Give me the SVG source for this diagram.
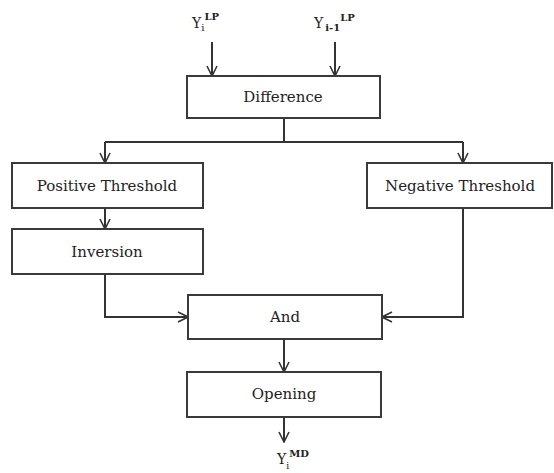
<svg xmlns="http://www.w3.org/2000/svg" width="554" height="473" viewBox="0 0 554 473">
<style>
.box{fill:#fff;stroke:#3a3a3a;stroke-width:2}
.lbl{font-family:"DejaVu Serif","Liberation Serif",serif;font-size:15px;fill:#222;text-anchor:middle}
.var{font-family:"DejaVu Serif","Liberation Serif",serif;fill:#222}
.ln{fill:none;stroke:#333;stroke-width:2}
</style>
<defs>
<marker id="ah" viewBox="0 0 12 12" refX="11" refY="6" markerWidth="12" markerHeight="12" markerUnits="userSpaceOnUse" orient="auto">
<path d="M1,1 L11,6 L1,11" fill="none" stroke="#333" stroke-width="1.6"/>
</marker>
</defs>
<g id="connectors">
<line class="ln" x1="212" y1="42" x2="212" y2="76" marker-end="url(#ah)"/>
<line class="ln" x1="335" y1="42" x2="335" y2="76" marker-end="url(#ah)"/>
<polyline class="ln" points="284,118 284,142"/>
<polyline class="ln" points="105,142 463,142"/>
<polyline class="ln" points="105,142 105,163" marker-end="url(#ah)"/>
<polyline class="ln" points="463,142 463,163" marker-end="url(#ah)"/>
<line class="ln" x1="105" y1="208" x2="105" y2="229" marker-end="url(#ah)"/>
<polyline class="ln" points="105,274 105,317 188,317" marker-end="url(#ah)"/>
<polyline class="ln" points="463,208 463,317 382,317" marker-end="url(#ah)"/>
<line class="ln" x1="284" y1="339" x2="284" y2="372" marker-end="url(#ah)"/>
<line class="ln" x1="284" y1="417" x2="284" y2="442" marker-end="url(#ah)"/>
</g>
<g id="in1">
<text class="var" x="192" y="28" font-size="14">Y<tspan font-size="10" dy="3">i</tspan><tspan font-size="10" font-weight="bold" dy="-11">LP</tspan></text>
</g>
<g id="in2">
<text class="var" x="314" y="28" font-size="14">Y<tspan font-size="10" font-weight="bold" dy="3" dx="2">i-1</tspan><tspan font-size="10" font-weight="bold" dy="-10">LP</tspan></text>
</g>
<g id="difference">
<rect class="box" x="187" y="76" width="193" height="42"/>
<text class="lbl" x="283" y="102">Difference</text>
</g>
<g id="positive">
<rect class="box" x="12" y="163" width="191" height="45"/>
<text class="lbl" x="107" y="191">Positive Threshold</text>
</g>
<g id="negative">
<rect class="box" x="367" y="163" width="185" height="45"/>
<text class="lbl" x="460" y="191">Negative Threshold</text>
</g>
<g id="inversion">
<rect class="box" x="12" y="229" width="191" height="45"/>
<text class="lbl" x="107" y="257">Inversion</text>
</g>
<g id="and">
<rect class="box" x="188" y="295" width="194" height="44"/>
<text class="lbl" x="285" y="322">And</text>
</g>
<g id="opening">
<rect class="box" x="187" y="372" width="194" height="45"/>
<text class="lbl" x="284" y="399">Opening</text>
</g>
<g id="out">
<text class="var" x="277" y="464" font-size="14">Y<tspan font-size="9" dy="5">i</tspan><tspan font-size="10" font-weight="bold" dy="-12">MD</tspan></text>
</g>
</svg>
